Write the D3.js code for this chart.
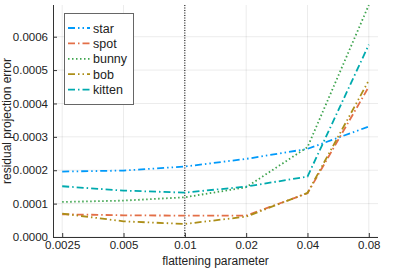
<!DOCTYPE html>
<html><head><meta charset="utf-8">
<script src="https://cdn.jsdelivr.net/npm/d3@7"></script>
<style>body{margin:0;background:#fff}svg{display:block}text{font-family:"Liberation Sans",Arial,sans-serif;fill:#222}</style>
</head><body><svg id="c" width="402" height="268"></svg>
<script>
const xValues = [0.0025, 0.005, 0.01, 0.02, 0.04, 0.08];
const xTickLabels = ["0.0025", "0.005", "0.01", "0.02", "0.04", "0.08"];
const yTicks = [0, 0.0001, 0.0002, 0.0003, 0.0004, 0.0005, 0.0006];
const yTickLabels = ["0.0000", "0.0001", "0.0002", "0.0003", "0.0004", "0.0005", "0.0006"];
const seriesNames = ["star", "spot", "bunny", "bob", "kitten"];
const star   = [0.000196, 0.000199, 0.000211, 0.000234, 0.000264, 0.000331];
const spot   = [0.000068, 0.000065, 0.000064, 0.000064, 0.000131, 0.000450];
const bunny  = [0.000105, 0.000109, 0.000119, 0.000149, 0.000269, 0.000695];
const bob    = [0.000070, 0.000047, 0.000039, 0.000061, 0.000132, 0.000469];
const kitten = [0.000152, 0.000139, 0.000133, 0.000151, 0.000181, 0.000576];
const colors = ["#009AFA", "#E36F47", "#3EA44E", "#AC8E18", "#00AAAE"];
const dashes = ["7,3,1.5,3,1.5,3", "7,3,1.5,3", "1.5,2.5", "7,3,1.5,3,1.5,3", "7,3,1.5,3"];
const markerX = 0.01;

const data = [star, spot, bunny, bob, kitten];
const svg = d3.select("#c");
const L = 53, R = 378, T = 5, B = 237;
const lx0 = Math.log2(0.0025), lx1 = Math.log2(0.08), pad = (lx1 - lx0) * 0.03;
const x = d3.scaleLog().base(2).domain([Math.pow(2, lx0 - pad), Math.pow(2, lx1 + pad)]).range([L, R]);
const y = d3.scaleLinear().domain([0, 0.000695]).range([B, T]);

// grid
svg.append("g").selectAll("line").data(xValues).join("line")
  .attr("x1", d => x(d)).attr("x2", d => x(d)).attr("y1", T).attr("y2", B)
  .attr("stroke", "#000").attr("stroke-opacity", 0.08).attr("stroke-width", 1);
svg.append("g").selectAll("line").data(yTicks).join("line")
  .attr("x1", L).attr("x2", R).attr("y1", d => y(d)).attr("y2", d => y(d))
  .attr("stroke", "#000").attr("stroke-opacity", 0.08).attr("stroke-width", 1);

// axes
const xAxis = d3.axisBottom(x).tickValues(xValues).tickFormat((d, i) => xTickLabels[i]).tickSize(-4).tickPadding(4);
const gx = svg.append("g").attr("transform", `translate(0,${B})`).call(xAxis);
const yAxis = d3.axisLeft(y).tickValues(yTicks).tickFormat((d, i) => yTickLabels[i]).tickSize(-4).tickPadding(5);
const gy = svg.append("g").attr("transform", `translate(${L},0)`).call(yAxis);
[gx, gy].forEach(g => {
  g.select(".domain").attr("stroke", "#333").attr("stroke-width", 1);
  g.selectAll(".tick line").attr("stroke", "#333");
  g.selectAll(".tick text").attr("font-size", "11.5px").attr("fill", "#222").style("font-family", '"Liberation Sans",Arial,sans-serif');
});
gy.select(".domain").attr("d", `M0.5,${B}V${T}`);
gx.select(".domain").attr("d", `M${L},0.5H${R}`);

// vertical marker
svg.append("line").attr("x1", x(markerX)).attr("x2", x(markerX)).attr("y1", T).attr("y2", B)
  .attr("stroke", "#000").attr("stroke-width", 1).attr("stroke-dasharray", "1,1.5");

// lines
const line = d3.line().x((d, i) => x(xValues[i])).y(d => y(d));
svg.append("g").selectAll("path").data(data).join("path")
  .attr("d", d => line(d)).attr("fill", "none")
  .attr("stroke", (d, i) => colors[i]).attr("stroke-width", 1.8)
  .attr("stroke-dasharray", (d, i) => dashes[i]);

// labels
svg.append("text").attr("x", (L + R) / 2).attr("y", 265).attr("text-anchor", "middle").attr("font-size", "12px").text("flattening parameter");
svg.append("text").attr("transform", `translate(11,${(T + B) / 2}) rotate(-90)`).attr("text-anchor", "middle").attr("font-size", "12px").text("residual projection error");

// legend
const lg = svg.append("g");
lg.append("rect").attr("x", 64.5).attr("y", 13.5).attr("width", 69).attr("height", 91)
  .attr("fill", "#fff").attr("stroke", "#666").attr("stroke-width", 1);
seriesNames.forEach((n, i) => {
  const yy = 28 + i * 15.4;
  lg.append("line").attr("x1", 68).attr("x2", 90).attr("y1", yy).attr("y2", yy)
    .attr("stroke", colors[i]).attr("stroke-width", 1.8).attr("stroke-dasharray", dashes[i]);
  lg.append("text").attr("x", 93).attr("y", yy + 4.5).attr("font-size", "12.5px").text(n);
});
</script></body></html>
